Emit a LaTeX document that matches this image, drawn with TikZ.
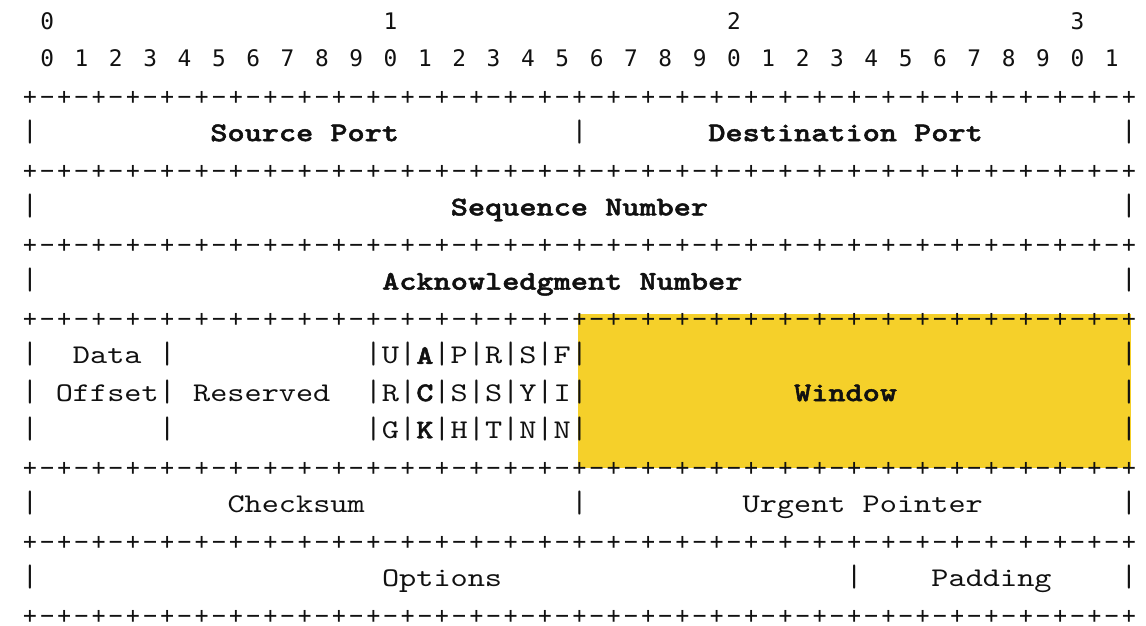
\documentclass[tikz,border=0pt]{standalone}
\usepackage{fontspec}
\usepackage{tikz}
\usetikzlibrary{backgrounds}
\setmonofont{lmmono10-regular}[Extension=.otf,
  BoldFont=lmmonolt10-bold, BoldFeatures={FakeBold=1.6}]
\newfontfamily\rulerfont{DejaVu Sans Mono}
\definecolor{winfill}{HTML}{F5D02A}
\definecolor{ink}{HTML}{111111}

\begin{document}
\begin{tikzpicture}[
  x=8.585pt, y=-18.57pt,
  every node/.style={inner sep=0pt,anchor=base,text=ink},
  field/.style={font=\fontsize{13.5pt}{16pt}\ttfamily,xscale=1.21},
  key/.style={field,font=\fontsize{13.5pt}{16pt}\ttfamily\bfseries},
  bar/.style={font=\fontsize{15.5pt}{18pt}\ttfamily},
  rule/.style={font=\fontsize{11.4pt}{14pt}\rulerfont}]
  \useasboundingbox (-1.747,-0.8) rectangle (64.997,16.03);
  % highlighted window field
  \fill[winfill] (31.92,7.655) rectangle (64.12,11.8);
  % bit ruler
  \foreach \t in {0,1,2,3}
    \node[rule] (dec\t) at (20*\t+1,0) {\t};
  \foreach \k in {0,...,31} {
    \pgfmathtruncatemacro\d{mod(\k,10)}
    \node[rule] (bit\k) at (2*\k+1,1) {\d};
  }
  % separator lines
  \foreach \r in {2,4,6,8,12,14,16} {
    \foreach \c in {0,2,...,64}
      \node[rule] (p\r-\c) at (\c,\r) {+};
    \foreach \c in {1,3,...,63}
      \node[rule] (m\r-\c) at (\c,\r) {−};
  }
  % field borders
  \foreach \c/\r in {0/3,32/3,64/3,0/5,64/5,0/7,64/7,
                     0/13,32/13,64/13,0/15,48/15,64/15}
    \node[bar] (v\r-\c) at (\c,\r) {|};
  \foreach \r in {9,10,11}
    \foreach \c in {0,8,20,22,24,26,28,30,32,64}
      \node[bar] (v\r-\c) at (\c,\r) {|};
  % control flags
  \foreach \c/\a/\b/\g/\s in {21/U/R/G/field,23/A/C/K/key,25/P/S/H/field,
                              27/R/S/T/field,29/S/Y/N/field,31/F/I/N/field} {
    \node[\s] (flag9-\c) at (\c,9) {\a};
    \node[\s] (flag10-\c) at (\c,10) {\b};
    \node[\s] (flag11-\c) at (\c,11) {\g};
  }
  % field names
  \node[key] (src) at (16,3) {Source Port};
  \node[key] (dst) at (47.5,3) {Destination Port};
  \node[key] (seq) at (32,5) {Sequence Number};
  \node[key] (ack) at (31,7) {Acknowledgment Number};
  \node[field] (data) at (4.5,9) {Data};
  \node[field] (offset) at (4.5,10) {Offset};
  \node[field] (rsvd) at (13.5,10) {Reserved};
  \node[key] (win) at (47.5,10) {Window};
  \node[field] (csum) at (15.5,13) {Checksum};
  \node[field] (urg) at (48.5,13) {Urgent Pointer};
  \node[field] (opt) at (24,15) {Options};
  \node[field] (pad) at (56,15) {Padding};
\end{tikzpicture}
\end{document}
